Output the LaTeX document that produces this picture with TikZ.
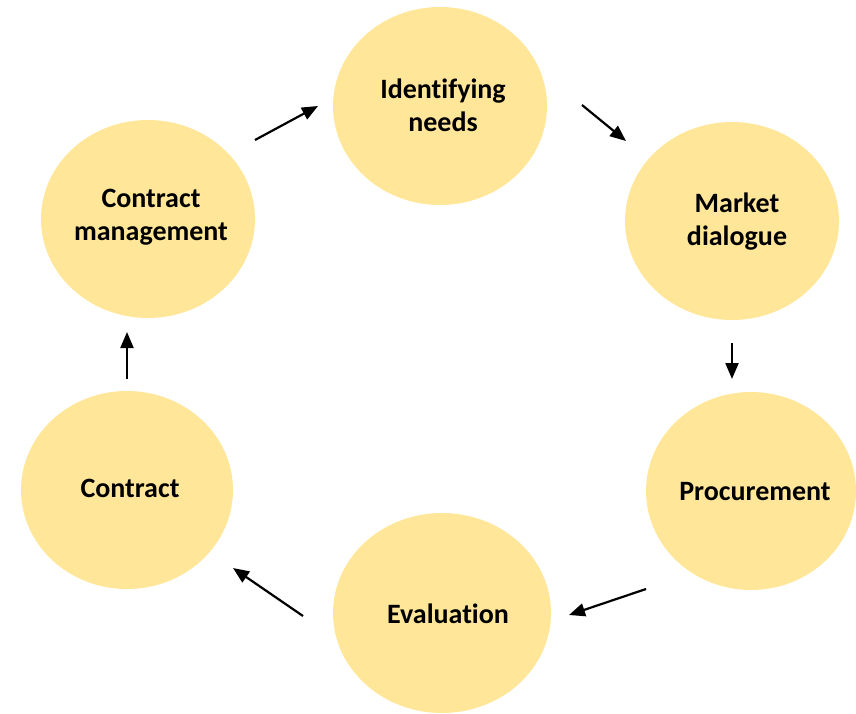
\documentclass[tikz,border=0pt]{standalone}
\usepackage{fontspec}
\setmainfont[Ligatures=NoCommon]{Carlito}
\usetikzlibrary{shapes.geometric,arrows.meta}
\definecolor{bubblefill}{RGB}{255,230,153}
\tikzset{
  bubble/.style={ellipse, fill=bubblefill, draw=none, inner sep=0pt,
    minimum width=214pt, minimum height=198pt},
  txt/.style={align=center, inner sep=0pt,
    font=\fontsize{28}{33}\selectfont\bfseries},
  flowarrow/.style={line width=2.2pt, -{Triangle[length=16pt,width=13pt]}}
}
\begin{document}
\begin{tikzpicture}[x=1pt,y=-1pt]
\useasboundingbox (0,0) rectangle (856,714);
\node[bubble] (needs) at (440,106) {};
\node[bubble] (market) at (732,221) {};
\node[bubble, minimum width=210pt] (proc) at (751,491) {};
\node[bubble, minimum width=218pt, minimum height=200pt] (eval) at (442,613) {};
\node[bubble, minimum width=212pt] (contract) at (127,490) {};
\node[bubble] (cm) at (148,219) {};
\node[txt] (needsT) at (443,105) {Identifying\\needs};
\node[txt] (marketT) at (737,222) {Market\\dialogue};
\node[txt] (procT) at (755,492) {Procurement};
\node[txt] (evalT) at (448,614) {Evaluation};
\node[txt] (contractT) at (130,488) {Contract};
\node[txt] (cmT) at (151,217) {Contract\\management};
\coordinate (a1s) at (255,140); \coordinate (a1e) at (318,106);
\coordinate (a2s) at (582,105); \coordinate (a2e) at (626,141);
\coordinate (a3s) at (732,343); \coordinate (a3e) at (732,379);
\coordinate (a4s) at (646,589); \coordinate (a4e) at (569,615);
\coordinate (a5s) at (303,616); \coordinate (a5e) at (233,568);
\coordinate (a6s) at (127,379); \coordinate (a6e) at (127,332);
\draw[flowarrow] (a1s) -- (a1e);
\draw[flowarrow] (a2s) -- (a2e);
\draw[flowarrow] (a3s) -- (a3e);
\draw[flowarrow] (a4s) -- (a4e);
\draw[flowarrow] (a5s) -- (a5e);
\draw[flowarrow] (a6s) -- (a6e);
\end{tikzpicture}
\end{document}
